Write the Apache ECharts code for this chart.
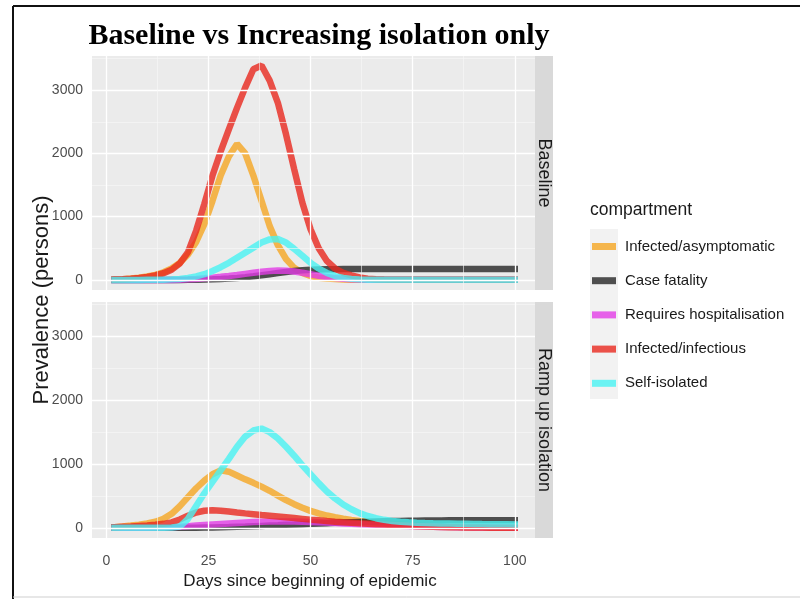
<!DOCTYPE html>
<html>
<head>
<meta charset="utf-8">
<title>Baseline vs Increasing isolation only</title>
<script src="https://cdn.jsdelivr.net/npm/echarts@6/dist/echarts.min.js"></script>
<style>
  html, body { margin: 0; padding: 0; background: #fff; }
  #chart { width: 800px; height: 599px; }
</style>
</head>
<body>
<div id="chart"></div>
<script>
// days sampled every 2 days
const days = [2, 4, 6, 8, 10, 12, 14, 16, 18, 20, 22, 24, 26, 28, 30, 32, 34, 36, 38, 40,
  42, 44, 46, 48, 50, 52, 54, 56, 58, 60, 62, 64, 66, 68, 70, 72, 74, 76, 78, 80,
  82, 84, 86, 88, 90, 92, 94, 96, 98, 100];

const compartments = ['Infected/asymptomatic', 'Case fatality', 'Requires hospitalisation', 'Infected/infectious', 'Self-isolated'];
const panels = ['Baseline', 'Ramp up isolation'];
const yTicks = [0, 1000, 2000, 3000];
const yMinor = [500, 1500, 2500, 3500];
const xTicks = [0, 25, 50, 75, 100];
const xMinor = [12.5, 37.5, 62.5, 87.5];

// Baseline panel
const baseAsym = [5, 12, 22, 35, 55, 80, 120, 180, 270, 400, 600, 880, 1250, 1650, 1950, 2150, 2000, 1650, 1250, 850,
  550, 330, 190, 110, 60, 35, 20, 12, 7, 4, 2, 2, 2, 2, 2, 2, 2, 2, 2, 2,
  2, 2, 2, 2, 2, 2, 2, 2, 2, 2];
const baseFatal = [0, 0, 0, 0, 0, 0, 0, 0, 0, 1, 3, 5, 9, 14, 21, 30, 42, 56, 72, 90,
  108, 125, 140, 152, 160, 165, 168, 170, 171, 171, 171, 171, 171, 171, 171, 171, 171, 171, 171, 171,
  171, 171, 171, 171, 171, 171, 171, 171, 171, 171];
const baseHosp = [0, 0, 0, 0, 0, 0, 0, 0, 3, 8, 15, 24, 35, 48, 62, 78, 95, 112, 128, 140,
  148, 145, 132, 112, 88, 64, 44, 28, 17, 10, 6, 3, 1, 1, 1, 1, 1, 1, 1, 1,
  1, 1, 1, 1, 1, 1, 1, 1, 1, 1];
const baseInf = [5, 10, 18, 30, 45, 70, 105, 160, 260, 440, 780, 1200, 1650, 2030, 2380, 2720, 3040, 3330, 3390, 3150,
  2800, 2300, 1750, 1220, 800, 500, 300, 180, 110, 70, 40, 20, 10, 5, 3, 2, 2, 2, 2, 2,
  2, 2, 2, 2, 2, 2, 2, 2, 2, 2];
const baseIso = [0, 0, 0, 0, 1, 2, 4, 8, 15, 30, 55, 90, 140, 200, 270, 350, 430, 510, 590, 640,
  645, 590, 490, 380, 270, 180, 110, 60, 32, 16, 8, 4, 2, 1, 1, 1, 1, 1, 1, 1,
  1, 1, 1, 1, 1, 1, 1, 1, 1, 1];

// Ramp up isolation panel
const rampAsym = [10, 22, 35, 50, 68, 95, 140, 220, 340, 480, 620, 740, 840, 900, 880, 820, 760, 705, 645, 580,
  505, 435, 370, 315, 265, 225, 192, 165, 142, 122, 106, 92, 80, 70, 60, 52, 44, 37, 31, 26,
  22, 18, 15, 12, 10, 8, 7, 6, 5, 4];
const rampFatal = [0, 0, 0, 0, 0, 0, 0, 0, 0, 1, 2, 4, 6, 9, 12, 16, 20, 25, 30, 35,
  40, 46, 51, 57, 62, 68, 73, 78, 83, 87, 91, 95, 99, 102, 105, 108, 110, 112, 114, 115,
  116, 117, 118, 118, 119, 119, 120, 120, 120, 120];
const rampHosp = [0, 0, 0, 0, 0, 3, 7, 12, 18, 26, 35, 44, 53, 61, 69, 76, 83, 89, 94, 97,
  99, 100, 99, 96, 92, 87, 81, 75, 69, 63, 57, 51, 46, 41, 36, 31, 27, 23, 19, 16,
  13, 11, 9, 7, 6, 5, 4, 3, 3, 2];
const rampInf = [8, 15, 22, 30, 38, 48, 62, 85, 130, 190, 240, 268, 275, 268, 255, 240, 226, 213, 200, 188,
  176, 164, 152, 140, 128, 117, 106, 96, 87, 79, 71, 64, 57, 50, 44, 38, 32, 26, 21, 16,
  12, 9, 7, 5, 4, 3, 2, 2, 1, 1];
const rampIso = [0, 0, 0, 0, 0, 1, 2, 4, 20, 140, 340, 540, 720, 900, 1080, 1270, 1430, 1525, 1555, 1500,
  1400, 1270, 1130, 980, 840, 700, 570, 460, 365, 290, 230, 185, 150, 125, 108, 96, 87, 80, 75, 71,
  68, 66, 64, 62, 60, 58, 57, 56, 55, 54];

const colors = ['#f5a623', '#262626', '#e23ce6', '#e8281e', '#48f2f2'];
const panelData = [
  [baseAsym, baseFatal, baseHosp, baseInf, baseIso],
  [rampAsym, rampFatal, rampHosp, rampInf, rampIso]
];

const font = "'Liberation Sans', Arial, sans-serif";
const chart = echarts.init(document.getElementById('chart'), null, { renderer: 'canvas' });

const grids = [
  { left: 92, top: 56, width: 443, height: 234 },
  { left: 92, top: 302, width: 443, height: 236 }
];

function gridLines(idx) {
  // ggplot style white grid drawn under the data
  const major = { color: '#ffffff', width: 1.3, type: 'solid' };
  const minor = { color: '#f8f8f8', width: 0.6, type: 'solid' };
  const lines = [];
  yTicks.forEach(v => lines.push({ yAxis: v, lineStyle: major }));
  yMinor.forEach(v => lines.push({ yAxis: v, lineStyle: minor }));
  xTicks.forEach(v => lines.push({ xAxis: v, lineStyle: major }));
  xMinor.forEach(v => lines.push({ xAxis: v, lineStyle: minor }));
  return {
    type: 'line', xAxisIndex: idx, yAxisIndex: idx, data: [], z: 1, silent: true,
    markLine: { silent: true, symbol: ['none', 'none'], label: { show: false }, animation: false, data: lines }
  };
}

const series = [];
panelData.forEach((set, p) => {
  series.push(gridLines(p));
  set.forEach((vals, i) => {
    series.push({
      name: compartments[i],
      type: 'line',
      xAxisIndex: p,
      yAxisIndex: p,
      showSymbol: false,
      symbol: 'none',
      z: 2,
      data: days.map((d, k) => [d, vals[k]]),
      lineStyle: { color: colors[i], width: 6.5, opacity: 0.8, cap: 'square' },
      itemStyle: { color: colors[i], opacity: 0.8 }
    });
  });
});

const xAxisBase = {
  type: 'value', min: -3.5, max: 104.95,
  splitLine: { show: false }, axisLine: { show: false }
};
const yAxisBase = {
  type: 'value', min: -160, max: 3540,
  splitLine: { show: false }, axisLine: { show: false },
  axisTick: { show: true, customValues: yTicks, length: 4, lineStyle: { color: '#444', width: 1 } },
  axisLabel: { customValues: yTicks, color: '#4d4d4d', fontSize: 14, fontFamily: font, margin: 9, formatter: v => String(v) }
};

const strips = [];
grids.forEach((g, i) => {
  strips.push({
    type: 'rect', shape: { x: g.left + g.width, y: g.top, width: 18, height: g.height },
    style: { fill: '#d9d9d9' }, z: 0
  });
  strips.push({
    type: 'text', x: g.left + g.width + 9, y: g.top + g.height / 2, rotation: -Math.PI / 2,
    style: { text: panels[i], fill: '#1a1a1a', font: '18px ' + font, textAlign: 'center', textVerticalAlign: 'middle' }
  });
});

chart.setOption({
  animation: false,
  backgroundColor: '#ffffff',
  grid: grids.map(g => Object.assign({ show: true, backgroundColor: '#ebebeb', borderWidth: 0 }, g)),
  xAxis: [
    Object.assign({ gridIndex: 0, axisTick: { show: false }, axisLabel: { show: false } }, xAxisBase),
    Object.assign({
      gridIndex: 1,
      axisTick: { show: true, customValues: xTicks, length: 4, lineStyle: { color: '#444', width: 1 } },
      axisLabel: { customValues: xTicks, color: '#4d4d4d', fontSize: 14, fontFamily: font, margin: 16 }
    }, xAxisBase)
  ],
  yAxis: [
    Object.assign({ gridIndex: 0 }, yAxisBase),
    Object.assign({ gridIndex: 1 }, yAxisBase)
  ],
  legend: {
    data: compartments,
    orient: 'vertical',
    left: 587,
    top: 234,
    icon: 'rect',
    itemWidth: 24,
    itemHeight: 7,
    itemGap: 19.2,
    selectedMode: false,
    textStyle: { fontSize: 15, fontFamily: font, color: '#1a1a1a', padding: [0, 0, 0, 4] }
  },
  graphic: [
    // frame of the picture
    { type: 'line', shape: { x1: 13, y1: 6, x2: 800, y2: 6 }, style: { stroke: '#111', lineWidth: 2 } },
    { type: 'line', shape: { x1: 13, y1: 6, x2: 13, y2: 599 }, style: { stroke: '#111', lineWidth: 2 } },
    { type: 'line', shape: { x1: 13, y1: 597, x2: 800, y2: 597 }, style: { stroke: '#cfcfcf', lineWidth: 1 } },
    {
      type: 'text', x: 319, y: 36,
      style: { text: 'Baseline vs Increasing isolation only', font: 'bold 30px "Liberation Serif", "DejaVu Serif", serif', fill: '#000', textAlign: 'center', textVerticalAlign: 'middle' }
    },
    {
      type: 'text', x: 42, y: 300, rotation: Math.PI / 2,
      style: { text: 'Prevalence (persons)', font: '22px ' + font, fill: '#1a1a1a', textAlign: 'center', textVerticalAlign: 'middle' }
    },
    {
      type: 'text', x: 310, y: 581,
      style: { text: 'Days since beginning of epidemic', font: '17px ' + font, fill: '#1a1a1a', textAlign: 'center', textVerticalAlign: 'middle' }
    },
    {
      type: 'text', x: 590, y: 210,
      style: { text: 'compartment', font: '17.5px ' + font, fill: '#1a1a1a', textAlign: 'left', textVerticalAlign: 'middle' }
    },
    { type: 'rect', shape: { x: 590, y: 229, width: 28, height: 170 }, style: { fill: '#f2f2f2' }, z: -1 }
  ].concat(strips),
  series: series
});
</script>
</body>
</html>
